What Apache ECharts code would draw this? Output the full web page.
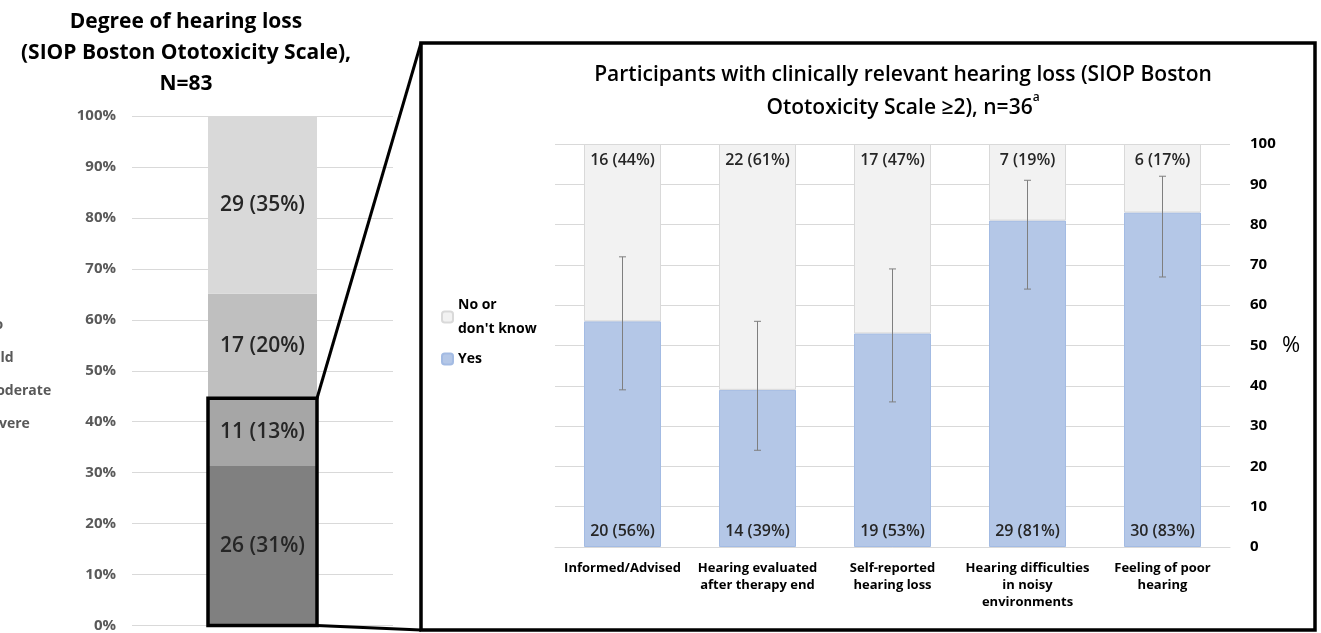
<!DOCTYPE html>
<html><head><meta charset="utf-8">
<script src="https://cdn.jsdelivr.net/npm/echarts@6/dist/echarts.min.js"></script>
<style>html,body{margin:0;padding:0;background:#fff}#c{width:1321px;height:633px}</style>
</head><body><div id="c"></div>
<script>
// ---- Left chart data (stack order bottom -> top)
const gradeNames = ['Severe', 'Moderate', 'Mild', 'No'];
const gradeCounts = [26, 11, 17, 29];
const gradePercents = [31.3, 13.3, 20.5, 34.9];
const gradeLabelPercents = [31, 13, 20, 35];
const leftLegendOrder = ['No', 'Mild', 'Moderate', 'Severe'];

// ---- Right chart data
const categories = ['Informed/Advised', 'Hearing evaluated\nafter therapy end', 'Self-reported\nhearing loss', 'Hearing difficulties\nin noisy\nenvironments', 'Feeling of poor\nhearing'];
const yesCounts = [20, 14, 19, 29, 30];
const yesPercents = [56, 39, 53, 81, 83];
const noCounts = [16, 22, 17, 7, 6];
const noPercents = [44, 61, 47, 19, 17];
const ciLow = [39, 24, 36, 64, 67];
const ciHigh = [72, 56, 69, 91, 92];

const NO_NAME = "No or\ndon't know";
const FONT = '"Open Sans", Lato, sans-serif';
const gradeColors = {Severe: '#808080', Moderate: '#a6a6a6', Mild: '#bfbfbf', No: '#d9d9d9'};

const chart = echarts.init(document.getElementById('c'));

const leftSeries = gradeNames.map((n, i) => ({
  name: n, type: 'bar', stack: 'grade', xAxisIndex: 0, yAxisIndex: 0,
  barWidth: 109,
  itemStyle: {color: gradeColors[n]},
  label: {show: true, position: 'inside', color: '#262626', fontSize: 21, fontWeight: 600, fontFamily: FONT,
    formatter: () => gradeCounts[i] + ' (' + gradeLabelPercents[i] + '%)'},
  data: [gradePercents[i]]
}));

const option = {
  animation: false,
  textStyle: {fontFamily: FONT},
  title: [
    {text: 'Degree of hearing loss\n(SIOP Boston Ototoxicity Scale),\nN=83', left: 181, top: 2, textAlign: 'center',
      textStyle: {fontSize: 21, fontWeight: 'bold', color: '#000', lineHeight: 31, fontFamily: FONT}},
    {text: 'Participants with clinically relevant hearing loss (SIOP Boston\nOtotoxicity Scale \u22652), n=36{sup|a}', left: 898, top: 54, textAlign: 'center',
      textStyle: {fontSize: 21, fontWeight: 600, color: '#000', lineHeight: 33, fontFamily: FONT,
        rich: {sup: {fontSize: 12, fontWeight: 600, verticalAlign: 'top', padding: [0, 0, 10, 0], color: '#000', fontFamily: FONT}}}}
  ],
  legend: [
    {data: leftLegendOrder, orient: 'vertical', left: -37, top: 313, itemWidth: 10, itemHeight: 10, itemGap: 19,
      textStyle: {color: '#595959', fontWeight: 'bold', fontSize: 14, fontFamily: FONT}},
    {data: [NO_NAME, 'Yes'], orient: 'vertical', left: 436, top: 288, itemWidth: 11, itemHeight: 11, itemGap: 6,
      textStyle: {color: '#000', fontWeight: 'bold', fontSize: 14, lineHeight: 24, fontFamily: FONT}}
  ],
  grid: [
    {left: 132, width: 261, top: 116, bottom: 5},
    {left: 555, right: 91, top: 144, bottom: 86}
  ],
  xAxis: [
    {type: 'category', gridIndex: 0, data: ['all'], axisLine: {show: false}, axisTick: {show: false}, axisLabel: {show: false}},
    {type: 'category', gridIndex: 1, data: categories, axisLine: {lineStyle: {color: '#d9d9d9'}}, axisTick: {show: false},
      axisLabel: {color: '#000', fontWeight: 'bold', fontSize: 13, lineHeight: 17, margin: 13, interval: 0, fontFamily: FONT}}
  ],
  yAxis: [
    {type: 'value', gridIndex: 0, min: 0, max: 100, interval: 10,
      axisLabel: {formatter: '{value}%', color: '#595959', fontWeight: 'bold', fontSize: 15, margin: 16, fontFamily: FONT},
      splitLine: {lineStyle: {color: '#d9d9d9'}}, axisLine: {show: false}, axisTick: {show: false}},
    {type: 'value', gridIndex: 1, position: 'right', min: 0, max: 100, interval: 10,
      name: '%', nameLocation: 'middle', nameRotate: 0, nameGap: 52,
      nameTextStyle: {color: '#000', fontSize: 22, fontFamily: FONT},
      axisLabel: {color: '#000', fontWeight: 'bold', fontSize: 15, margin: 20, fontFamily: FONT},
      splitLine: {lineStyle: {color: '#d9d9d9'}}, axisLine: {show: false}, axisTick: {show: false}}
  ],
  series: leftSeries.concat([
    {name: 'Yes', type: 'bar', stack: 'h', xAxisIndex: 1, yAxisIndex: 1, barWidth: 77,
      itemStyle: {color: '#b4c7e7', borderColor: '#a3bbe3', borderWidth: 1},
      label: {show: true, position: 'insideBottom', distance: 8, color: '#262626', fontSize: 16, fontWeight: 600, fontFamily: FONT,
        formatter: p => yesCounts[p.dataIndex] + ' (' + yesPercents[p.dataIndex] + '%)'},
      data: yesPercents},
    {name: NO_NAME, type: 'bar', stack: 'h', xAxisIndex: 1, yAxisIndex: 1, barWidth: 77,
      itemStyle: {color: '#f2f2f2', borderColor: '#d9d9d9', borderWidth: 1},
      label: {show: true, position: 'insideTop', distance: 8, color: '#262626', fontSize: 16, fontWeight: 600, fontFamily: FONT,
        formatter: p => noCounts[p.dataIndex] + ' (' + noPercents[p.dataIndex] + '%)'},
      data: noPercents},
    {name: 'CI', type: 'custom', xAxisIndex: 1, yAxisIndex: 1, z: 10,
      encode: {x: 0, y: [1, 2]},
      data: categories.map((c, i) => [i, ciLow[i], ciHigh[i]]),
      renderItem: (params, api) => {
        const x = api.value(0);
        const p1 = api.coord([x, api.value(2)]);
        const p2 = api.coord([x, api.value(1)]);
        const w = 3.5;
        const st = {stroke: '#7f7f7f', lineWidth: 1};
        return {type: 'group', children: [
          {type: 'line', shape: {x1: p1[0], y1: p1[1], x2: p2[0], y2: p2[1]}, style: st},
          {type: 'line', shape: {x1: p1[0] - w, y1: p1[1], x2: p1[0] + w, y2: p1[1]}, style: st},
          {type: 'line', shape: {x1: p2[0] - w, y1: p2[1], x2: p2[0] + w, y2: p2[1]}, style: st}
        ]};
      }}
  ])
};
chart.setOption(option);

// Zoom decoration: box around the clinically relevant segments, frame and connector lines
const basePt = chart.convertToPixel({xAxisIndex: 0, yAxisIndex: 0}, [0, 0]);
const boxTopPt = chart.convertToPixel({xAxisIndex: 0, yAxisIndex: 0}, [0, gradePercents[0] + gradePercents[1]]);
const half = 109 / 2;
const fr = {x: 421, y: 43, w: 894, h: 587};
chart.setOption({graphic: [
  {type: 'rect', z: 100, shape: {x: basePt[0] - half, y: boxTopPt[1], width: 2 * half, height: basePt[1] - boxTopPt[1]},
    style: {fill: null, stroke: '#000', lineWidth: 3.5}},
  {type: 'rect', z: 100, shape: {x: fr.x, y: fr.y, width: fr.w, height: fr.h},
    style: {fill: null, stroke: '#000', lineWidth: 3.5}},
  {type: 'line', z: 100, shape: {x1: basePt[0] + half, y1: boxTopPt[1], x2: fr.x, y2: fr.y}, style: {stroke: '#000', lineWidth: 3}},
  {type: 'line', z: 100, shape: {x1: basePt[0] + half, y1: basePt[1], x2: fr.x, y2: fr.y + fr.h}, style: {stroke: '#000', lineWidth: 3}}
]});
</script>
</body></html>
